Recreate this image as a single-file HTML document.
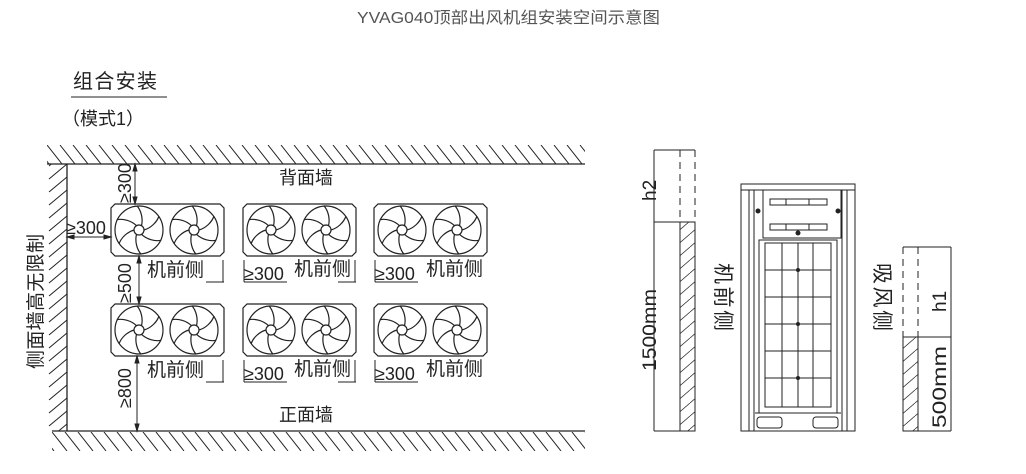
<!DOCTYPE html>
<html><head><meta charset="utf-8"><style>
html,body{margin:0;padding:0;background:#fff;width:1026px;height:474px;overflow:hidden}
svg{display:block}
text{font-family:"Liberation Sans","Noto Sans CJK SC",sans-serif;fill:#222}
</style></head><body>
<svg width="1026" height="474" viewBox="0 0 1026 474" xmlns="http://www.w3.org/2000/svg">
<defs>
<pattern id="hz" x="47" y="145" width="13" height="19" patternUnits="userSpaceOnUse"><path d="M-13,0 L2,19 M0,0 L15,19 M13,0 L28,19" stroke="#222" stroke-width="1"/></pattern>
<pattern id="hb" x="52" y="432" width="13" height="19" patternUnits="userSpaceOnUse"><path d="M-13,0 L2,19 M0,0 L15,19 M13,0 L28,19" stroke="#222" stroke-width="1"/></pattern>
<pattern id="hv" x="47" y="164" width="20" height="13" patternUnits="userSpaceOnUse"><path d="M20,-13 L2,2 M20,0 L2,15 M20,13 L2,28" stroke="#222" stroke-width="1"/></pattern>
<pattern id="hs" width="15" height="13" patternUnits="userSpaceOnUse"><path d="M0,13 L15,0 M-15,13 L0,0 M0,26 L15,13" stroke="#333" stroke-width="0.8"/></pattern>
<g id="fan" fill="none" stroke="#222" stroke-width="1.2">
<circle r="24"/><circle r="5"/>
<path d="M5,0 C12,-2 18,-8 20,-14"/>
<path d="M5,0 C12,-2 18,-8 20,-14" transform="rotate(60)"/>
<path d="M5,0 C12,-2 18,-8 20,-14" transform="rotate(120)"/>
<path d="M5,0 C12,-2 18,-8 20,-14" transform="rotate(180)"/>
<path d="M5,0 C12,-2 18,-8 20,-14" transform="rotate(240)"/>
<path d="M5,0 C12,-2 18,-8 20,-14" transform="rotate(300)"/>
</g>
<g id="unit">
<path d="M4,0 H109 L113,4 V48 L109,52 H4 L0,48 V4 Z" fill="none" stroke="#222" stroke-width="1.2"/>
<use href="#fan" x="28" y="26"/><use href="#fan" x="83" y="26"/>
</g>
</defs>

<text x="357" y="23" font-size="16" textLength="303" lengthAdjust="spacingAndGlyphs" style="fill:#555">YVAG040顶部出风机组安装空间示意图</text>
<text x="73" y="88" font-size="20" textLength="84">组合安装</text>
<line x1="71" y1="97" x2="167" y2="97" stroke="#222"/>
<text x="62" y="125" font-size="18">（模式1）</text>

<!-- walls -->
<rect x="47" y="145" width="538" height="19" fill="url(#hz)"/>
<rect x="47" y="164" width="20" height="267" fill="url(#hv)"/>
<rect x="52" y="432" width="533" height="19" fill="url(#hb)"/>
<line x1="47" y1="164" x2="585" y2="164" stroke="#222" stroke-width="1.3"/>
<line x1="67" y1="164" x2="67" y2="431" stroke="#222" stroke-width="1.3"/>
<line x1="52" y1="431" x2="585" y2="431" stroke="#222" stroke-width="1.3"/>

<text x="279" y="184" font-size="18">背面墙</text>
<text x="279" y="421" font-size="18">正面墙</text>
<text font-size="19" transform="translate(42,369) rotate(-90)" textLength="135">侧面墙高无限制</text>

<use href="#unit" x="111" y="204"/><use href="#unit" x="243" y="204"/><use href="#unit" x="374" y="204"/>
<use href="#unit" x="111" y="304"/><use href="#unit" x="243" y="304"/><use href="#unit" x="374" y="304"/>

<!-- dimensions -->
<g stroke="#222" stroke-width="1" fill="#222">
<line x1="135" y1="164" x2="135" y2="204"/>
<line x1="67" y1="237" x2="111" y2="237"/>
<line x1="139" y1="256" x2="139" y2="304"/>
<line x1="137" y1="356" x2="137" y2="431"/>
<path d="M135,164 l-2,7 h4z M135,204 l-2,-7 h4z M67,237 l7,-2 v4z M111,237 l-7,-2 v4z M139,256 l-2,7 h4z M139,304 l-2,-7 h4z M137,356 l-2,7 h4z M137,431 l-2,-7 h4z"/>
</g>
<text font-size="18" transform="translate(131,203) rotate(-90)">≥300</text>
<text x="66" y="234" font-size="18">≥300</text>
<text font-size="18" transform="translate(131,303) rotate(-90)">≥500</text>
<text font-size="18" transform="translate(131,408) rotate(-90)">≥800</text>

<g font-size="19">
<text x="147" y="276">机前侧</text><text x="147" y="376">机前侧</text>
<text x="294" y="275">机前侧</text><text x="294" y="375">机前侧</text>
<text x="426" y="275">机前侧</text><text x="426" y="375">机前侧</text>
</g>
<g font-size="18">
<text x="244" y="280">≥300</text><text x="244" y="380">≥300</text>
<text x="375" y="280">≥300</text><text x="375" y="380">≥300</text>
</g>
<g stroke="#222" stroke-width="1" fill="none">
<path d="M223,260 V282 M206,282 H224"/><path d="M223,360 V382 M206,382 H224"/>
<path d="M355,260 V282 M338,282 H356"/><path d="M355,360 V382 M338,382 H356"/>
<path d="M244,260 V282 M244,282 H287"/><path d="M244,360 V382 M244,382 H287"/>
<path d="M375,260 V282 M375,282 H418"/><path d="M375,360 V382 M375,382 H418"/>
</g>

<!-- right: h2 column -->
<g stroke="#222" stroke-width="1" fill="none">
<rect x="680" y="222" width="15" height="209" fill="url(#hs)"/>
<line x1="654" y1="150" x2="695" y2="150"/>
<line x1="654" y1="222" x2="695" y2="222"/>
<line x1="654" y1="431" x2="695" y2="431"/>
<line x1="654" y1="150" x2="654" y2="431"/>
<line x1="680" y1="150" x2="680" y2="222" stroke-dasharray="7,5"/>
<line x1="695" y1="150" x2="695" y2="222" stroke-dasharray="7,5"/>
</g>
<text font-size="19" transform="translate(656,201) rotate(-90)">h2</text>
<text font-size="19" transform="translate(656,371) rotate(-90)" textLength="82" lengthAdjust="spacingAndGlyphs">1500mm</text>

<!-- unit front -->
<g stroke="#222" stroke-width="1" fill="none">
<rect x="741" y="184" width="114" height="247"/>
<line x1="741" y1="190" x2="855" y2="190"/>
<line x1="749" y1="190" x2="749" y2="431"/><line x1="754" y1="190" x2="754" y2="431"/>
<line x1="847" y1="190" x2="847" y2="431"/><line x1="842" y1="190" x2="842" y2="431"/>
<rect x="763" y="190" width="78" height="48"/>
<rect x="770" y="199" width="57" height="6"/><rect x="770" y="224" width="57" height="6"/>
<line x1="786" y1="199" x2="786" y2="205"/><line x1="809" y1="199" x2="809" y2="205"/>
<line x1="786" y1="224" x2="786" y2="230"/><line x1="809" y1="224" x2="809" y2="230"/>
<rect x="759" y="240" width="78" height="173"/>
<rect x="765" y="243" width="66" height="164"/>
<path d="M782,243V407M798,243V407M813,243V407M765,270H831M765,297H831M765,324H831M765,351H831M765,378H831"/>
<line x1="755" y1="413" x2="841" y2="413"/>
<rect x="757" y="417" width="25" height="11" rx="3"/><rect x="813" y="417" width="25" height="11" rx="3"/>
</g>
<g fill="#222"><circle cx="758" cy="211" r="2.5"/><circle cx="838" cy="211" r="2.5"/><circle cx="798" cy="233" r="2.5"/><circle cx="798" cy="270" r="2"/><circle cx="798" cy="378" r="2"/><circle cx="798" cy="324" r="2"/></g>
<text font-size="21" transform="translate(716,263) rotate(90)" textLength="68">机前侧</text>
<text font-size="21" transform="translate(875,263) rotate(90)" textLength="68">吸风侧</text>

<!-- right: h1 column -->
<g stroke="#222" stroke-width="1" fill="none">
<rect x="903" y="337" width="15" height="94" fill="url(#hs)"/>
<line x1="903" y1="247" x2="951" y2="247"/>
<line x1="903" y1="337" x2="951" y2="337"/>
<line x1="903" y1="431" x2="951" y2="431"/>
<line x1="951" y1="247" x2="951" y2="431"/>
<line x1="903" y1="247" x2="903" y2="337" stroke-dasharray="7,5"/>
<line x1="918" y1="247" x2="918" y2="337" stroke-dasharray="7,5"/>
</g>
<text font-size="19" transform="translate(946,312) rotate(-90)">h1</text>
<text font-size="19" transform="translate(946,428) rotate(-90)" textLength="82" lengthAdjust="spacingAndGlyphs">500mm</text>
</svg>
</body></html>
